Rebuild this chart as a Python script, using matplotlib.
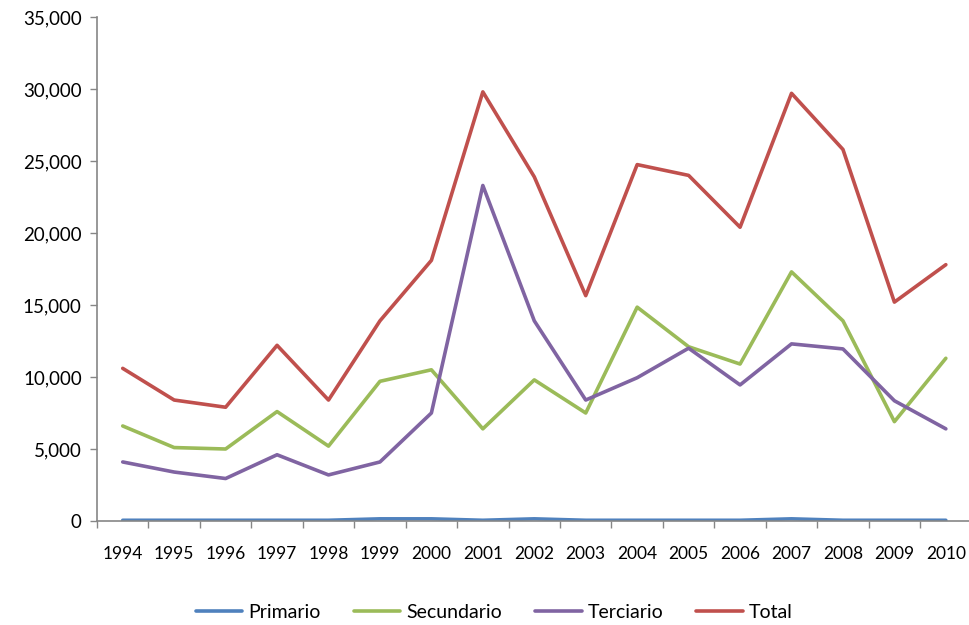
import matplotlib.pyplot as plt
from matplotlib.ticker import FuncFormatter, FixedLocator
import numpy as np

plt.rcParams["font.family"] = ["Lato", "DejaVu Sans"]

years = [str(y) for y in range(1994, 2011)]

primario = [50, 50, 50, 50, 50, 150, 150, 50, 150, 50, 50, 50, 50, 150, 50, 50, 50]
secundario = [6600, 5100, 5000, 7600, 5200, 9700, 10500, 6400, 9800, 7500,
              14850, 12100, 10900, 17300, 13900, 6900, 11300]
terciario = [4100, 3400, 2950, 4600, 3200, 4100, 7500, 23300, 13900, 8400,
             9950, 12000, 9450, 12300, 11950, 8350, 6400]
total = [10600, 8400, 7900, 12200, 8400, 13900, 18100, 29800, 23900, 15650,
         24750, 24000, 20400, 29700, 25800, 15200, 17800]

series = [
    ("Primario", primario, "#4F81BD"),
    ("Secundario", secundario, "#9BBB59"),
    ("Terciario", terciario, "#8064A2"),
    ("Total", total, "#C0504D"),
]

fig = plt.figure(figsize=(9.69, 6.25), dpi=100)
ax = fig.add_axes([97 / 969, 104 / 625, 872 / 969, 504 / 625])

x = np.arange(len(years))
for name, vals, color in series:
    ax.plot(x, vals, color=color, linewidth=2.6, label=name,
            solid_joinstyle="round", solid_capstyle="round")

ax.set_xlim(-0.5, 16.45)
ax.set_ylim(0, 35000)
ax.set_yticks(np.arange(0, 35001, 5000))
ax.yaxis.set_major_formatter(FuncFormatter(lambda v, p: f"{int(v):,}"))

ax.set_xticks(x)
ax.set_xticklabels(years, fontsize=12.5)
ax.xaxis.set_minor_locator(FixedLocator(np.arange(-0.5, 16.5, 1)))
ax.tick_params(axis="x", which="major", length=0, pad=18)
ax.tick_params(axis="x", which="minor", length=5, color="#868686", width=1)
ax.tick_params(axis="y", length=5, color="#868686", width=1, labelsize=13.5, pad=6)

for side in ["top", "right"]:
    ax.spines[side].set_visible(False)
for side in ["left", "bottom"]:
    ax.spines[side].set_color("#868686")
    ax.spines[side].set_linewidth(1.2)

fig.legend(loc="center", bbox_to_anchor=(0.51, 0.02), ncol=4, frameon=False,
           fontsize=14, handlelength=2.4, columnspacing=1.7, handletextpad=0.3)

fig.savefig("out.png", dpi=100)
